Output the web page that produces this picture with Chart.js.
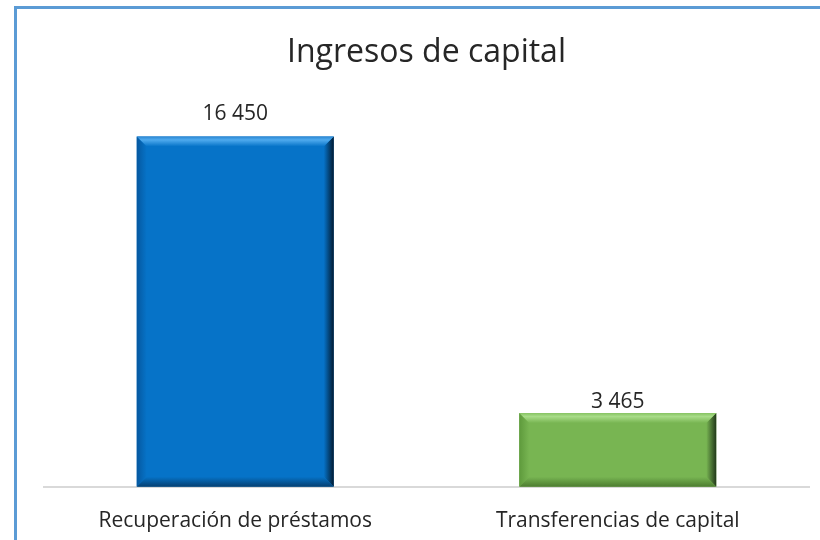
<!DOCTYPE html>
<html>
<head>
<meta charset="utf-8">
<script src="https://cdn.jsdelivr.net/npm/chart.js@4.4.0/dist/chart.umd.min.js"></script>
<style>
  html, body { margin: 0; padding: 0; background: #fff; }
  #wrap { position: relative; width: 820px; height: 540px; overflow: hidden; }
  #frame {
    position: absolute; left: 14px; top: 6px; width: 830px; height: 560px;
    border-left: 3px solid #5B9BD5; border-top: 3px solid #5B9BD5;
  }
  #myBarChart { position: absolute; left: 0; top: 0; }
</style>
</head>
<body>
<div id="wrap">
  <div id="frame"></div>
  <canvas id="myBarChart" width="820" height="540"></canvas>
</div>
<script>
// chart data
const categories = ['Recuperación de préstamos', 'Transferencias de capital'];
const values = [16450, 3465];
const yMax = 18000;

// bar styles
const barColors = ['#0673C8', '#78B552'];
const bevels = [
  { topEdge: '#2A86D2', highlight: '#4FAAEE', left: '#0558A0', right: '#021A30', bottom: '#053F70' },
  { topEdge: '#86C262', highlight: '#A8DC88', left: '#5E9A3C', right: '#22381A', bottom: '#4C7C30' }
];
const labelOffsets = [16, 5];

const ctx = document.getElementById('myBarChart');
const FONT = "'Open Sans', 'Noto Sans', sans-serif";

function fmt(v) {
  return String(v).replace(/\B(?=(\d{3})+(?!\d))/g, ' ');
}

// draws the bevel edges on top of each bar
const bevelPlugin = {
  id: 'bevel',
  afterDatasetsDraw(chart) {
    const c = chart.ctx;
    const meta = chart.getDatasetMeta(0);
    meta.data.forEach((bar, i) => {
      const p = bar.getProps(['x', 'y', 'base', 'width'], true);
      const l = p.x - p.width / 2, r = p.x + p.width / 2;
      const t = p.y, b = p.base;
      const s = 10;
      const col = bevels[i], main = barColors[i];
      c.save();
      // left
      let g = c.createLinearGradient(l, 0, l + s, 0);
      g.addColorStop(0, col.left); g.addColorStop(1, main);
      c.fillStyle = g;
      c.beginPath(); c.moveTo(l, t); c.lineTo(l + s, t + s); c.lineTo(l + s, b - s); c.lineTo(l, b); c.closePath(); c.fill();
      // right
      g = c.createLinearGradient(r - s, 0, r, 0);
      g.addColorStop(0, main); g.addColorStop(1, col.right);
      c.fillStyle = g;
      c.beginPath(); c.moveTo(r, t); c.lineTo(r - s, t + s); c.lineTo(r - s, b - s); c.lineTo(r, b); c.closePath(); c.fill();
      // bottom
      g = c.createLinearGradient(0, b - s, 0, b);
      g.addColorStop(0, main); g.addColorStop(1, col.bottom);
      c.fillStyle = g;
      c.beginPath(); c.moveTo(l, b); c.lineTo(l + s, b - s); c.lineTo(r - s, b - s); c.lineTo(r, b); c.closePath(); c.fill();
      // top
      g = c.createLinearGradient(0, t, 0, t + s);
      g.addColorStop(0, col.topEdge); g.addColorStop(0.35, col.highlight); g.addColorStop(1, main);
      c.fillStyle = g;
      c.beginPath(); c.moveTo(l, t); c.lineTo(r, t); c.lineTo(r - s, t + s); c.lineTo(l + s, t + s); c.closePath(); c.fill();
      c.restore();
    });
  }
};

// value labels above the bars
const valueLabels = {
  id: 'valueLabels',
  afterDatasetsDraw(chart) {
    const c = chart.ctx;
    const meta = chart.getDatasetMeta(0);
    c.save();
    c.font = '21px ' + FONT;
    c.fillStyle = '#262626';
    c.textAlign = 'center';
    c.textBaseline = 'alphabetic';
    meta.data.forEach((bar, i) => {
      c.fillText(fmt(values[i]), bar.x, bar.y - labelOffsets[i]);
    });
    c.restore();
  }
};

const data = {
  labels: categories,
  datasets: [{
    data: values,
    backgroundColor: barColors,
    borderWidth: 0,
    barPercentage: 0.515,
    categoryPercentage: 1
  }]
};

const config = {
  type: 'bar',
  data: data,
  options: {
    responsive: false,
    animation: false,
    layout: { padding: { left: 44, right: 11, top: 0, bottom: -16 } },
    plugins: {
      legend: { display: false },
      tooltip: { enabled: false },
      title: {
        display: true,
        text: 'Ingresos de capital',
        color: '#262626',
        font: { family: FONT, size: 32, weight: 'normal' },
        padding: { top: 34, bottom: 31 }
      }
    },
    scales: {
      x: {
        grid: { display: false, drawTicks: false },
        border: { color: '#D9D9D9', width: 2 },
        ticks: { color: '#262626', font: { family: FONT, size: 21 }, padding: 22 }
      },
      y: { display: false, min: 0, max: yMax }
    }
  },
  plugins: [bevelPlugin, valueLabels]
};

const barChart = new Chart(ctx, config);
</script>
</body>
</html>
